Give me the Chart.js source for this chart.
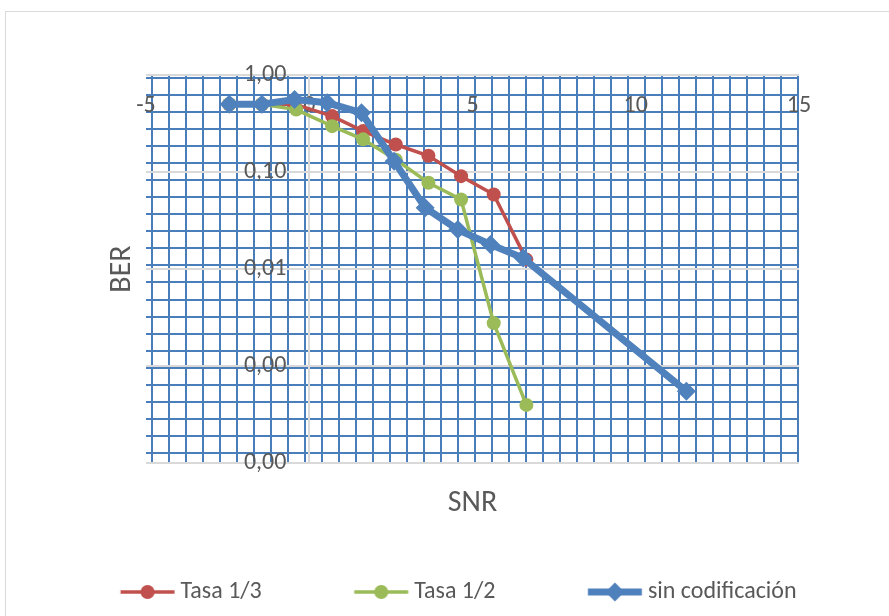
<!DOCTYPE html>
<html><head><meta charset="utf-8">
<script src="https://cdn.jsdelivr.net/npm/chart.js@4.4.1/dist/chart.umd.min.js"></script>
<style>
html,body{margin:0;padding:0;background:#fff;}
#wrap{position:relative;width:889px;height:616px;overflow:hidden;}
#frame{position:absolute;left:5px;top:11px;width:900px;height:620px;border:1.5px solid #d9d9d9;box-sizing:border-box;}
canvas{position:absolute;left:0;top:0;}
</style></head><body>
<div id="wrap"><div id="frame"></div><canvas id="c" width="889" height="616"></canvas></div>
<script>
// ---------------- data ----------------
const seriesNames = ['Tasa 1/3', 'Tasa 1/2', 'sin codificación'];
const snrTasa13 = [-2.45, -1.45, -0.45, 0.7, 1.65, 2.65, 3.65, 4.65, 5.65, 6.65];
const berTasa13 = [0.5, 0.5, 0.5, 0.377, 0.264, 0.192, 0.147, 0.0906, 0.0586, 0.0125];
const snrTasa12 = [-2.45, -1.45, -0.4, 0.7, 1.65, 2.65, 3.65, 4.65, 5.65, 6.65];
const berTasa12 = [0.5, 0.5, 0.44, 0.297, 0.217, 0.134, 0.0774, 0.052, 0.00277, 0.000397];
const snrSinCod = [-2.45, -1.45, -0.45, 0.55, 1.6, 2.6, 3.55, 4.55, 5.55, 6.55, 11.55];
const berSinCod = [0.5, 0.5, 0.56, 0.517, 0.408, 0.129, 0.0428, 0.0255, 0.0179, 0.013, 0.00055];
const xTickValues = [-5, 0, 5, 10, 15];
const yTickValues = [1, 0.1, 0.01, 0.001, 0.0001];
const xTitle = 'SNR';
const yTitle = 'BER';

// ---------------- style ----------------
const FONT = "Carlito, Calibri, Lato, 'Liberation Sans', sans-serif";
const TXT = '#595959';
const RED = '#c0504d', GREEN = '#9bbb59', BLUE = '#4f81bd';
const GRIDBLUE = '#4a7ebb', MAJOR = '#d9d9d9';
const LEG_SIZE = 24, TICK_SIZE = 24, TITLE_SIZE = 30;
const TITLE_LH = TITLE_SIZE * 1.2;

const toPoints = (xs, ys) => xs.map((x, i) => ({x: x, y: ys[i]}));

// legend geometry (Excel-like spacing)
const mctx = document.createElement('canvas').getContext('2d');
mctx.font = LEG_SIZE + 'px ' + FONT;
const T = mctx.measureText(seriesNames[0]).width;
const legPad = 6;
const boxW = 233.7 - LEG_SIZE / 2 - T - legPad;
const padLeft = 180.5 - LEG_SIZE / 2 - legPad - boxW;

function makeIcon(color, lw, style, r) {
  const c = document.createElement('canvas');
  const W = Math.ceil(boxW + 20), H = 26;
  c.width = W; c.height = H;
  const g = c.getContext('2d');
  const off = W / 2 - boxW / 2;
  const right = off + boxW + LEG_SIZE / 2 - 6;
  const left = right - 54;
  g.strokeStyle = color; g.lineWidth = lw;
  g.beginPath(); g.moveTo(left, H / 2); g.lineTo(right, H / 2); g.stroke();
  const cx = (left + right) / 2, cy = H / 2;
  g.fillStyle = color;
  g.beginPath();
  if (style === 'circle') { g.arc(cx, cy, r, 0, Math.PI * 2); }
  else { g.moveTo(cx, cy - r); g.lineTo(cx + r, cy); g.lineTo(cx, cy + r); g.lineTo(cx - r, cy); g.closePath(); }
  g.fill();
  return c;
}
const icons = [makeIcon(RED, 3.5, 'circle', 7), makeIcon(GREEN, 3.5, 'circle', 7), makeIcon(BLUE, 7, 'diamond', 9.5)];

// layout targets
const AREA_TOP = 75, AREA_BOTTOM = 463, AREA_LEFT = 146;
const legTop = 592 - legPad - LEG_SIZE / 2;
const legH = LEG_SIZE + legPad + 10;
const padBottom = 616 - legTop - legH;
const gxH = legTop - AREA_BOTTOM;
const gxPb = legTop - TITLE_LH / 2 - 503;
const gxPt = gxH - TITLE_LH - gxPb;
const gyPt = 122 - padLeft - TITLE_LH / 2;
const gyPb = AREA_LEFT - padLeft - TITLE_LH - gyPt;

const intTicks = (n) => (s) => { s.ticks = []; for (let v = 0; v <= n; v++) s.ticks.push({value: v}); };

new Chart(document.getElementById('c'), {
  type: 'scatter',
  data: {
    datasets: [
      {label: seriesNames[0], data: toPoints(snrTasa13, berTasa13), showLine: true, xAxisID: 'x', yAxisID: 'y',
       borderColor: RED, backgroundColor: RED, borderWidth: 3.5, pointStyle: 'circle', pointRadius: 7,
       pointBackgroundColor: RED, pointBorderColor: RED, pointBorderWidth: 0, order: 2},
      {label: seriesNames[1], data: toPoints(snrTasa12, berTasa12), showLine: true, xAxisID: 'x', yAxisID: 'y',
       borderColor: GREEN, backgroundColor: GREEN, borderWidth: 3.5, pointStyle: 'circle', pointRadius: 7,
       pointBackgroundColor: GREEN, pointBorderColor: GREEN, pointBorderWidth: 0, order: 1},
      {label: seriesNames[2], data: toPoints(snrSinCod, berSinCod), showLine: true, xAxisID: 'x', yAxisID: 'y',
       borderColor: BLUE, backgroundColor: BLUE, borderWidth: 7, pointStyle: 'rectRot', pointRadius: 9.5,
       pointBackgroundColor: BLUE, pointBorderColor: BLUE, pointBorderWidth: 0, order: 0}
    ]
  },
  options: {
    responsive: false, animation: false, devicePixelRatio: 1,
    layout: {padding: {left: padLeft, right: 0, top: AREA_TOP, bottom: padBottom}},
    elements: {line: {tension: 0}},
    scales: {
      x: {
        type: 'linear', axis: 'x', min: -5, max: 15, position: {y: 1},
        afterBuildTicks: (s) => { s.ticks = xTickValues.map(v => ({value: v})); },
        grid: {drawTicks: false, lineWidth: 2, z: -1,
               color: (c) => (c.tick && c.tick.value === 0) ? MAJOR : 'rgba(0,0,0,0)'},
        border: {display: false},
        ticks: {padding: 106 - AREA_TOP - TICK_SIZE * 0.6, color: TXT, font: {family: FONT, size: TICK_SIZE}, maxRotation: 0}
      },
      y: {
        type: 'logarithmic', axis: 'y', min: 0.0001, max: 1, position: {x: -0.7},
        afterBuildTicks: (s) => { s.ticks = yTickValues.map(v => ({value: v})); },
        grid: {drawTicks: false, lineWidth: 2, color: MAJOR, z: -1},
        border: {display: false},
        ticks: {color: TXT, font: {family: FONT, size: TICK_SIZE},
                callback: (v) => Number(v).toFixed(2).replace('.', ',')}
      },
      gx: {
        type: 'linear', axis: 'x', position: 'bottom', min: -0.335, max: 38.03,
        afterBuildTicks: intTicks(38),
        grid: {drawTicks: false, lineWidth: 2, color: GRIDBLUE, z: -2},
        border: {display: false}, ticks: {display: false},
        title: {display: true, text: xTitle, color: TXT, font: {family: FONT, size: TITLE_SIZE},
                padding: {top: gxPt, bottom: gxPb}}
      },
      gy: {
        type: 'linear', axis: 'y', position: 'left', min: -0.605, max: 22.19,
        afterBuildTicks: intTicks(22),
        grid: {drawTicks: false, lineWidth: 2, color: GRIDBLUE, z: -2},
        border: {display: false}, ticks: {display: false},
        title: {display: true, text: yTitle, color: TXT, font: {family: FONT, size: TITLE_SIZE},
                padding: {top: gyPt, bottom: gyPb}}
      },
      sp: {
        type: 'linear', axis: 'y', position: 'right', min: 0, max: 1,
        grid: {display: false, drawTicks: false}, border: {display: false}, ticks: {display: false},
        title: {display: true, text: '', font: {size: 10}, padding: {top: 78, bottom: 0}}
      }
    },
    plugins: {
      tooltip: {enabled: false},
      legend: {
        position: 'bottom', align: 'start',
        labels: {
          usePointStyle: true, pointStyleWidth: boxW, padding: legPad, color: TXT,
          font: {family: FONT, size: LEG_SIZE},
          sort: (a, b) => a.datasetIndex - b.datasetIndex,
          generateLabels: (chart) => Chart.defaults.plugins.legend.labels.generateLabels(chart)
            .map(it => Object.assign(it, {pointStyle: icons[it.datasetIndex]}))
        }
      }
    }
  }
});
</script>
</body></html>
